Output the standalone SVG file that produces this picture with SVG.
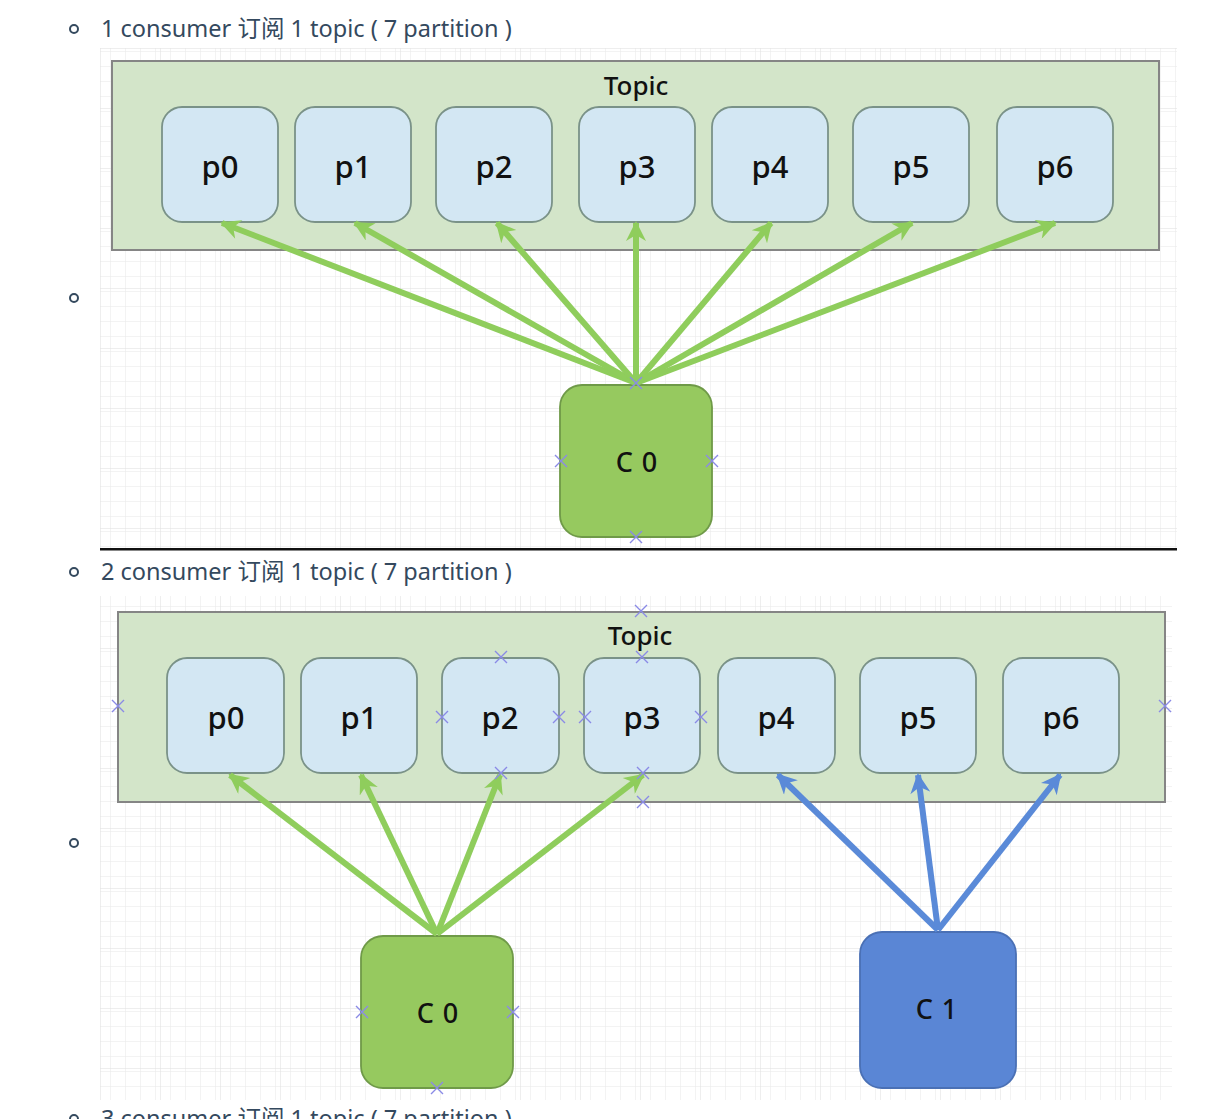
<svg xmlns="http://www.w3.org/2000/svg" xmlns:xlink="http://www.w3.org/1999/xlink" width="1214" height="1119" viewBox="0 0 1214 1119">
<style>
.head{font-family:"Noto Sans","Noto Sans CJK SC",sans-serif;font-size:23.5px;fill:#34495e}
.bul{fill:none;stroke:#34495e;stroke-width:2}
.topic{fill:#d3e5c9;stroke:#858585;stroke-width:2}
.tt{font-family:"Noto Sans","Liberation Sans",Arial,sans-serif;font-size:26px;font-weight:500;fill:#111;text-anchor:middle}
.part{fill:#d3e7f3;stroke:#7a9288;stroke-width:1.8}
.pt{font-family:"Noto Sans","Liberation Sans",Arial,sans-serif;font-size:31px;font-weight:500;fill:#111;text-anchor:middle}
.cg{fill:#96c95f;stroke:#6f9a48;stroke-width:1.8}
.cb{fill:#5a86d5;stroke:#4a70b5;stroke-width:1.8}
.ct{font-family:"Noto Sans","Liberation Sans",Arial,sans-serif;font-size:27px;font-weight:500;letter-spacing:1px;fill:#111;text-anchor:middle}
.ag{stroke:#8fcd5c;stroke-width:6;fill:none;marker-end:url(#mg)}
.ab{stroke:#5a8ad8;stroke-width:6;fill:none;marker-end:url(#mb)}
.x{stroke:#8a8ae6;stroke-width:1.4;fill:none}
</style>
<defs>
<pattern id="grid" width="15" height="15" patternUnits="userSpaceOnUse" x="100" y="48">
<path d="M15,0 L0,0 L0,15" fill="none" stroke="#e8e8e8" stroke-width="1"/>
</pattern>
<pattern id="gridM" width="60" height="60" patternUnits="userSpaceOnUse" x="100" y="48">
<rect width="60" height="60" fill="url(#grid)"/>
<path d="M60,0 L0,0 L0,60" fill="none" stroke="#dedede" stroke-width="1"/>
</pattern>
<marker id="mg" viewBox="0 0 10 10" refX="9" refY="5" markerWidth="24" markerHeight="20" markerUnits="userSpaceOnUse" orient="auto">
<path d="M0,0 L10,5 L0,10 L3,5 z" fill="#8fcd5c"/>
</marker>
<marker id="mb" viewBox="0 0 10 10" refX="9" refY="5" markerWidth="24" markerHeight="20" markerUnits="userSpaceOnUse" orient="auto">
<path d="M0,0 L10,5 L0,10 L3,5 z" fill="#5a8ad8"/>
</marker>
<path id="xm" class="x" d="M-6,-6 L6,6 M6,-6 L-6,6"/>
</defs>
<rect width="1214" height="1119" fill="#ffffff"/>

<!-- headings -->
<g id="headings">
<circle class="bul" cx="74" cy="29" r="4"/>
<text class="head" x="101" y="37">1 consumer 订阅 1 topic ( 7 partition )</text>
<circle class="bul" cx="74" cy="298" r="4"/>
<circle class="bul" cx="74" cy="572" r="4"/>
<text class="head" x="101" y="580">2 consumer 订阅 1 topic ( 7 partition )</text>
<circle class="bul" cx="74" cy="843" r="4"/>
<circle class="bul" cx="74" cy="1119" r="4"/>
<text class="head" x="101" y="1127">3 consumer 订阅 1 topic ( 7 partition )</text>
</g>

<!-- diagram 1 -->
<g id="diagram1">
<rect x="100" y="48" width="1077" height="500" fill="url(#gridM)"/>
<rect x="100" y="548" width="1077" height="2.5" fill="#111"/>
<g id="d1-topic">
<rect class="topic" x="112" y="61" width="1047" height="189"/>
<text class="tt" x="636" y="95">Topic</text>
</g>
<g id="d1-p0"><rect class="part" x="162" y="107" width="116" height="115" rx="20"/><text class="pt" x="220" y="178">p0</text></g>
<g id="d1-p1"><rect class="part" x="295" y="107" width="116" height="115" rx="20"/><text class="pt" x="353" y="178">p1</text></g>
<g id="d1-p2"><rect class="part" x="436" y="107" width="116" height="115" rx="20"/><text class="pt" x="494" y="178">p2</text></g>
<g id="d1-p3"><rect class="part" x="579" y="107" width="116" height="115" rx="20"/><text class="pt" x="637" y="178">p3</text></g>
<g id="d1-p4"><rect class="part" x="712" y="107" width="116" height="115" rx="20"/><text class="pt" x="770" y="178">p4</text></g>
<g id="d1-p5"><rect class="part" x="853" y="107" width="116" height="115" rx="20"/><text class="pt" x="911" y="178">p5</text></g>
<g id="d1-p6"><rect class="part" x="997" y="107" width="116" height="115" rx="20"/><text class="pt" x="1055" y="178">p6</text></g>
<g id="d1-c0"><rect class="cg" x="560" y="385" width="152" height="152" rx="22"/><text class="ct" x="637" y="472">C 0</text></g>
<g id="d1-connectors">
<line class="ag" x1="636" y1="383" x2="222" y2="223"/>
<line class="ag" x1="636" y1="383" x2="355" y2="223"/>
<line class="ag" x1="636" y1="383" x2="497" y2="223"/>
<line class="ag" x1="636" y1="383" x2="636" y2="223"/>
<line class="ag" x1="636" y1="383" x2="771" y2="223"/>
<line class="ag" x1="636" y1="383" x2="912" y2="223"/>
<line class="ag" x1="636" y1="383" x2="1055" y2="223"/>
</g>
<g id="d1-marks">
<use xlink:href="#xm" x="636" y="383"/>
<use xlink:href="#xm" x="561" y="461"/>
<use xlink:href="#xm" x="712" y="461"/>
<use xlink:href="#xm" x="636" y="537"/>
</g>
</g>

<!-- diagram 2 -->
<g id="diagram2">
<rect x="100" y="596" width="1072" height="504" fill="url(#gridM)"/>
<g id="d2-topic">
<rect class="topic" x="118" y="612" width="1047" height="190"/>
<text class="tt" x="640" y="645">Topic</text>
</g>
<g id="d2-p0"><rect class="part" x="167" y="658" width="117" height="115" rx="20"/><text class="pt" x="226" y="729">p0</text></g>
<g id="d2-p1"><rect class="part" x="301" y="658" width="116" height="115" rx="20"/><text class="pt" x="359" y="729">p1</text></g>
<g id="d2-p2"><rect class="part" x="442" y="658" width="117" height="115" rx="20"/><text class="pt" x="500" y="729">p2</text></g>
<g id="d2-p3"><rect class="part" x="584" y="658" width="116" height="115" rx="20"/><text class="pt" x="642" y="729">p3</text></g>
<g id="d2-p4"><rect class="part" x="718" y="658" width="117" height="115" rx="20"/><text class="pt" x="776" y="729">p4</text></g>
<g id="d2-p5"><rect class="part" x="860" y="658" width="116" height="115" rx="20"/><text class="pt" x="918" y="729">p5</text></g>
<g id="d2-p6"><rect class="part" x="1003" y="658" width="116" height="115" rx="20"/><text class="pt" x="1061" y="729">p6</text></g>
<g id="d2-c0"><rect class="cg" x="361" y="936" width="152" height="152" rx="22"/><text class="ct" x="438" y="1023">C 0</text></g>
<g id="d2-c1"><rect class="cb" x="860" y="932" width="156" height="156" rx="22"/><text class="ct" x="937" y="1019">C 1</text></g>
<g id="d2-connectors">
<line class="ag" x1="437" y1="934" x2="230" y2="775"/>
<line class="ag" x1="437" y1="934" x2="361" y2="775"/>
<line class="ag" x1="437" y1="934" x2="500" y2="775"/>
<line class="ag" x1="437" y1="934" x2="643" y2="775"/>
<line class="ab" x1="938" y1="930" x2="778" y2="775"/>
<line class="ab" x1="938" y1="930" x2="918" y2="775"/>
<line class="ab" x1="938" y1="930" x2="1060" y2="775"/>
</g>
<g id="d2-marks">
<use xlink:href="#xm" x="641" y="611"/>
<use xlink:href="#xm" x="642" y="657"/>
<use xlink:href="#xm" x="501" y="657"/>
<use xlink:href="#xm" x="118" y="706"/>
<use xlink:href="#xm" x="1165" y="706"/>
<use xlink:href="#xm" x="442" y="717"/>
<use xlink:href="#xm" x="559" y="717"/>
<use xlink:href="#xm" x="585" y="717"/>
<use xlink:href="#xm" x="701" y="717"/>
<use xlink:href="#xm" x="501" y="773"/>
<use xlink:href="#xm" x="643" y="773"/>
<use xlink:href="#xm" x="643" y="802"/>
<use xlink:href="#xm" x="362" y="1012"/>
<use xlink:href="#xm" x="513" y="1012"/>
<use xlink:href="#xm" x="437" y="1088"/>
</g>
</g>
</svg>
